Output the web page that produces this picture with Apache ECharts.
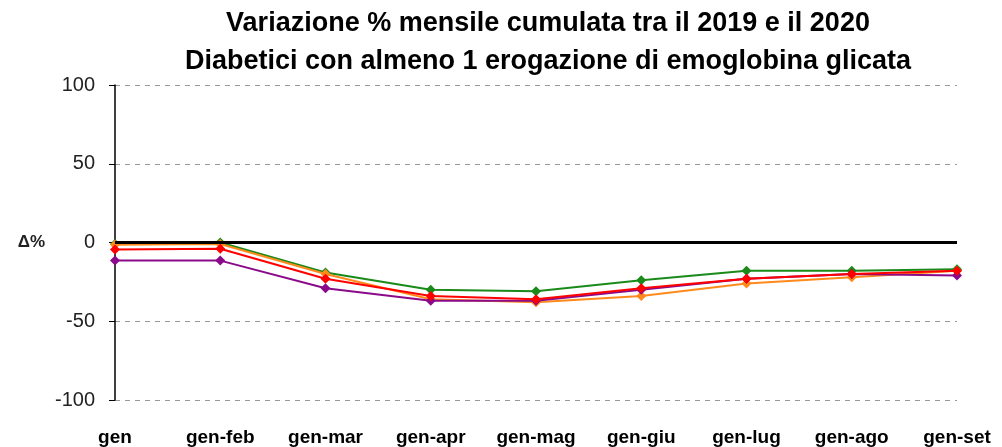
<!DOCTYPE html>
<html>
<head>
<meta charset="utf-8">
<script src="https://cdn.jsdelivr.net/npm/echarts@6/dist/echarts.min.js"></script>
<style>
  html, body { margin: 0; padding: 0; background: #fff; }
  #chart { width: 1002px; height: 447px; }
</style>
</head>
<body>
<div id="chart"></div>
<script>
var categories = ['gen', 'gen-feb', 'gen-mar', 'gen-apr', 'gen-mag', 'gen-giu', 'gen-lug', 'gen-ago', 'gen-set'];
var yTicks = [-100, -50, 0, 50, 100];

var greenValues = [-1, 0, -19, -30, -31, -24, -18, -18, -17];
var orangeValues = [-1.5, -1, -20, -36, -38, -34, -26, -22, -18];
var purpleValues = [-11.5, -11.5, -29, -37, -37, -30, -23, -20, -21];
var redValues = [-4.5, -4, -23, -34, -36, -29, -23, -20, -18];

var seriesList = [
    {name: 'verde', color: '#1a8a1a', data: greenValues},
    {name: 'arancio', color: '#ff8a1c', data: orangeValues},
    {name: 'viola', color: '#8a0a8a', data: purpleValues},
    {name: 'rosso', color: '#ff0000', data: redValues}
];

var chart = echarts.init(document.getElementById('chart'));

var series = [];
for (var i = 0; i < seriesList.length; i++) {
    var s = seriesList[i];
    series.push({
        name: s.name,
        type: 'line',
        data: s.data,
        symbol: 'diamond',
        symbolSize: 10,
        lineStyle: {color: s.color, width: 2},
        itemStyle: {color: s.color},
        z: 3 + i,
        animation: false
    });
}
// linea dello zero
series[0].markLine = {
    silent: true,
    symbol: 'none',
    label: {show: false},
    lineStyle: {color: '#000', width: 3, type: 'solid'},
    data: [{yAxis: 0}]
};

var option = {
    backgroundColor: '#fff',
    title: {
        text: 'Variazione % mensile cumulata tra il 2019 e il 2020\nDiabetici con almeno 1 erogazione di emoglobina glicata',
        left: 543,
        textAlign: 'center',
        top: 0,
        textStyle: {
            fontFamily: 'Liberation Sans, Arial, sans-serif',
            fontWeight: 'bold',
            fontSize: 27,
            lineHeight: 38,
            color: '#000'
        }
    },
    grid: {left: 115, right: 45, top: 85, bottom: 47},
    xAxis: {
        type: 'category',
        data: categories,
        boundaryGap: false,
        axisLine: {show: false},
        axisTick: {show: false},
        splitLine: {show: false},
        axisLabel: {
            interval: 0,
            margin: 28,
            fontFamily: 'Liberation Sans, Arial, sans-serif',
            fontWeight: 'bold',
            fontSize: 19,
            color: '#000'
        }
    },
    yAxis: {
        type: 'value',
        min: yTicks[0],
        max: yTicks[yTicks.length - 1],
        interval: 50,
        name: 'Δ%',
        nameLocation: 'middle',
        nameRotate: 0,
        nameGap: 70,
        nameTextStyle: {
            fontFamily: 'Liberation Sans, Arial, sans-serif',
            fontWeight: 'bold',
            fontSize: 17,
            color: '#222'
        },
        axisLine: {show: true, lineStyle: {color: '#000', width: 1.5}},
        axisTick: {show: true, length: 6, lineStyle: {color: '#000'}},
        axisLabel: {
            margin: 20,
            fontFamily: 'Liberation Sans, Arial, sans-serif',
            fontSize: 20,
            color: '#222'
        },
        splitLine: {show: true, lineStyle: {color: '#999', type: [5, 5], width: 1}}
    },
    series: series
};

chart.setOption(option);
</script>
</body>
</html>
